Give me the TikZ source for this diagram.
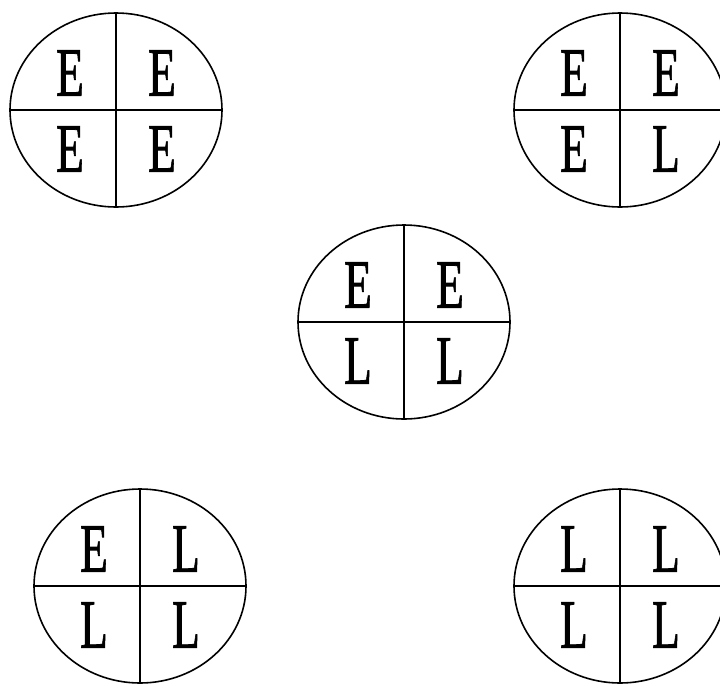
\documentclass[tikz,border=0pt]{standalone}
\usepackage{fontspec}
\setmainfont{Liberation Serif}
\newfontfamily\ltrfont[FakeBold=1.2]{Liberation Serif}
\usetikzlibrary{shapes.geometric}
\tikzset{
  cell/.style={ellipse,draw,line width=1.6pt,minimum width=212pt,minimum height=194pt,inner sep=0pt},
  ltr/.style={inner sep=0pt,font=\ltrfont\fontsize{69}{70}\selectfont},
  divline/.style={line width=1.6pt}
}
\newcommand\mycell[7]{%
  \node[cell] (#1) at (#2,#3) {};
  \draw[divline] (#1.north) -- (#1.south);
  \draw[divline] (#1.west) -- (#1.east);
  \node[ltr] (#1a) at (#2-46,#3-37) {\scalebox{0.66}[1]{#4}};
  \node[ltr] (#1b) at (#2+46,#3-37) {\scalebox{0.66}[1]{#5}};
  \node[ltr] (#1c) at (#2-46,#3+39) {\scalebox{0.66}[1]{#6}};
  \node[ltr] (#1d) at (#2+46,#3+39) {\scalebox{0.66}[1]{#7}};
}
\begin{document}
\begin{tikzpicture}[x=1pt,y=-1pt]
\useasboundingbox (0,0) rectangle (720,686);
\mycell{c1}{116}{110}{E}{E}{E}{E}
\mycell{c2}{620}{110}{E}{E}{E}{L}
\mycell{c3}{404}{322}{E}{E}{L}{L}
\mycell{c4}{140}{586}{E}{L}{L}{L}
\mycell{c5}{620}{586}{L}{L}{L}{L}
\end{tikzpicture}
\end{document}
